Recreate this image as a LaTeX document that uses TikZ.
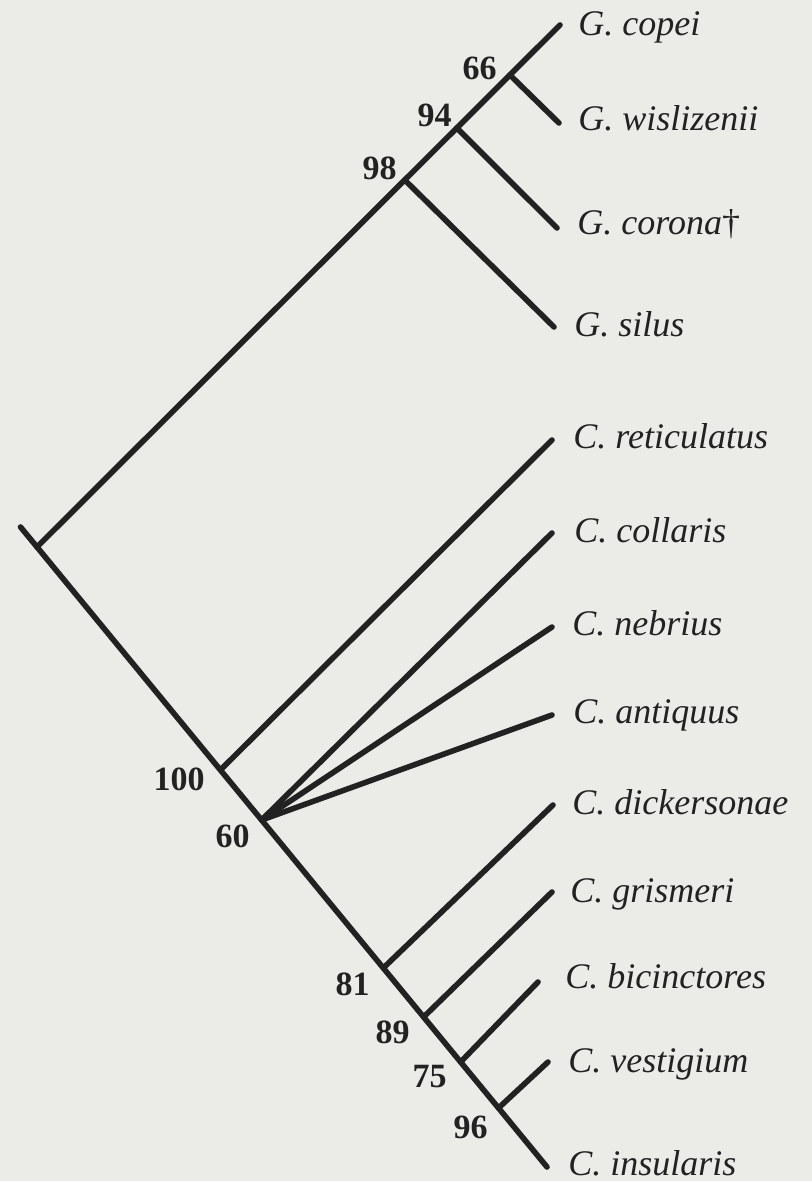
\documentclass[tikz,border=0pt]{standalone}
\usepackage{fontspec}
\setmainfont{Liberation Serif}
\definecolor{bg}{RGB}{235,235,232}
\definecolor{ink}{RGB}{34,34,34}
\begin{document}
\begin{tikzpicture}[x=0.5pt,y=-0.5pt,
  branch/.style={draw=ink,line width=2.8pt,line cap=round,line join=round},
  taxon/.style={anchor=base west,inner sep=0pt,font=\fontsize{18}{18}\selectfont\itshape,text=ink},
  support/.style={anchor=base east,inner sep=0pt,font=\fontsize{17}{17}\selectfont\bfseries,text=ink}]
\fill[bg] (0,0) rectangle (812,1181);
\useasboundingbox (0,0) rectangle (812,1181);
% internal nodes
\coordinate (stub) at (20.5,527);
\coordinate (R) at (37,547);
\coordinate (n98) at (404.7,180);
\coordinate (n94) at (456.8,128);
\coordinate (n66) at (509.9,75);
\coordinate (n100) at (220.4,770);
\coordinate (n60) at (261.6,820);
\coordinate (n81) at (383.3,968);
\coordinate (n89) at (423.6,1017);
\coordinate (n75) at (460.6,1062);
\coordinate (n96) at (498.5,1108);
% tips
\coordinate (tcop) at (560,25);
\coordinate (twis) at (559,123);
\coordinate (tcor) at (557,228);
\coordinate (tsil) at (554,327);
\coordinate (tret) at (552,440);
\coordinate (tcol) at (552,533);
\coordinate (tneb) at (552,627);
\coordinate (tant) at (552,715);
\coordinate (tdic) at (553,805);
\coordinate (tgri) at (552,892);
\coordinate (tbic) at (538,982);
\coordinate (tves) at (548,1062);
\coordinate (tins) at (547,1167);
% branches
\draw[branch] (R) -- (n98) -- (n94) -- (n66) -- (tcop);
\draw[branch] (n66) -- (twis);
\draw[branch] (n94) -- (tcor);
\draw[branch] (n98) -- (tsil);
\draw[branch] (stub) -- (R) -- (n100) -- (n60) -- (n81) -- (n89) -- (n75) -- (n96) -- (tins);
\draw[branch] (n100) -- (tret);
\draw[branch] (n60) -- (tcol);
\draw[branch] (n60) -- (tneb);
\draw[branch] (n60) -- (tant);
\draw[branch] (n81) -- (tdic);
\draw[branch] (n89) -- (tgri);
\draw[branch] (n75) -- (tbic);
\draw[branch] (n96) -- (tves);
% taxa
\node[taxon] (lcop) at (578,36) {G. copei};
\node[taxon] (lwis) at (578,131) {G. wislizenii};
\node[taxon] (lcor) at (577,235) {G. corona\textup{\dag}};
\node[taxon] (lsil) at (574,337) {G. silus};
\node[taxon] (lret) at (573,448) {C. reticulatus};
\node[taxon] (lcol) at (574,542) {C. collaris};
\node[taxon] (lneb) at (572,635) {C. nebrius};
\node[taxon] (lant) at (573,723) {C. antiquus};
\node[taxon] (ldic) at (572,814) {C. dickersonae};
\node[taxon] (lgri) at (570,902) {C. grismeri};
\node[taxon] (lbic) at (565,988) {C. bicinctores};
\node[taxon] (lves) at (568,1072) {C. vestigium};
\node[taxon] (lins) at (568,1175) {C. insularis};
% support values
\node[support] (s66) at (497,80) {66};
\node[support] (s94) at (452,127) {94};
\node[support] (s98) at (397,180) {98};
\node[support] (s100) at (205,790) {100};
\node[support] (s60) at (250,847) {60};
\node[support] (s81) at (370,995) {81};
\node[support] (s89) at (410,1043) {89};
\node[support] (s75) at (447,1087) {75};
\node[support] (s96) at (488,1138) {96};
\end{tikzpicture}
\end{document}
